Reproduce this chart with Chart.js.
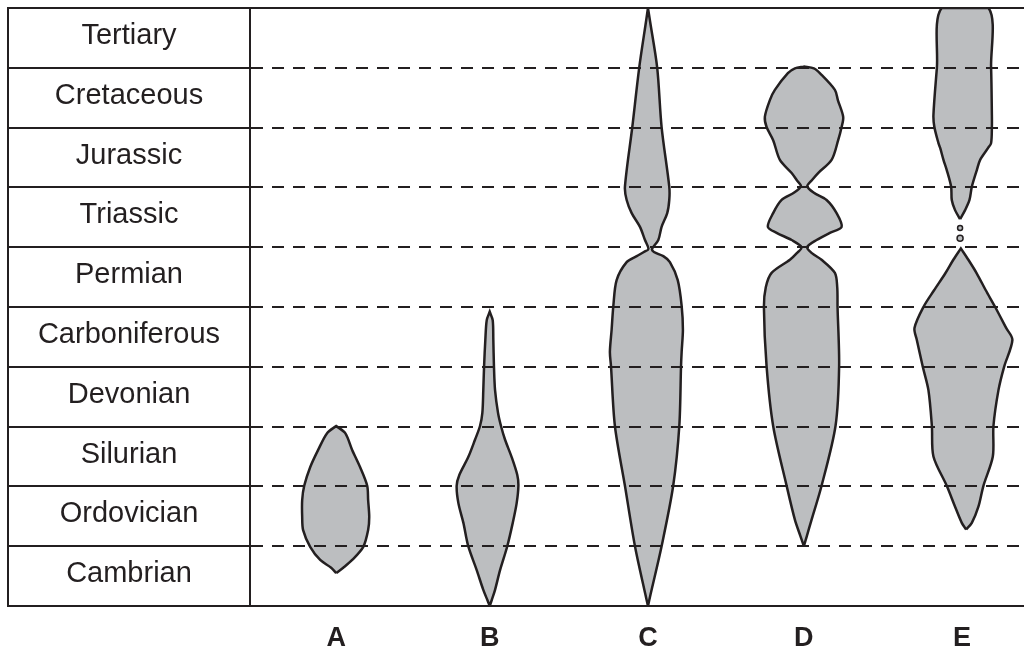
<!DOCTYPE html>
<html>
<head>
<meta charset="utf-8">
<script src="https://cdn.jsdelivr.net/npm/chart.js@4.4.1/dist/chart.umd.min.js"></script>
<style>
  html, body { margin: 0; padding: 0; background: #fff; }
  #wrap { width: 1024px; height: 652px; }
</style>
</head>
<body>
<div id="wrap"><canvas id="spindles"></canvas></div>
<script>
// periods bottom -> top, one unit of the y scale each
const periods = ['Cambrian', 'Ordovician', 'Silurian', 'Devonian', 'Carboniferous',
  'Permian', 'Triassic', 'Jurassic', 'Cretaceous', 'Tertiary'];
const groups = ['A', 'B', 'C', 'D', 'E'];
const groupX = [10.1, 19.9, 30.0, 39.95, 50.05];

// spindle outlines: levels (bottom up) and left / right edge offsets from the column
const levelsA = [0.55, 0.64, 0.77, 0.99, 1.27, 1.49, 1.77, 2.01, 2.32, 2.61, 2.89, 3.01];
const leftA = [0, -0.32, -1.02, -1.66, -2.11, -2.17, -2.17, -2.04, -1.66, -1.15, -0.58, 0];
const rightA = [0, 0.45, 1.02, 1.73, 2.04, 2.11, 2.04, 1.98, 1.53, 1.02, 0.58, 0];

const levelsB = [0, 0.1, 0.27, 0.6, 1.0, 1.39, 1.72, 2.01, 2.19, 2.49, 2.78, 3.01, 3.23, 3.61, 4.01, 4.45, 4.78, 4.92];
const leftB = [0, -0.15, -0.41, -0.83, -1.37, -1.68, -2.0, -2.11, -1.94, -1.37, -0.94, -0.62, -0.47, -0.41, -0.36, -0.28, -0.19, 0];
const rightB = [0, 0.13, 0.34, 0.66, 1.12, 1.47, 1.72, 1.83, 1.76, 1.40, 0.98, 0.72, 0.53, 0.34, 0.27, 0.23, 0.19, 0];

const levelsC = [0, 0.2, 1.0, 2.01, 3.01, 4.01, 4.25, 4.62, 5.02, 5.45, 5.75, 5.85, 5.92, 5.97, 6.12, 6.34, 6.57, 6.79, 7.01, 8.01, 9.0, 9.8, 10];
const leftC = [0, -0.17, -0.83, -1.47, -2.11, -2.36, -2.43, -2.32, -2.21, -2.0, -1.36, -0.72, -0.26, 0.03, -0.19, -0.51, -1.04, -1.36, -1.47, -1.0, -0.56, -0.11, 0];
const rightC = [0, 0.17, 0.87, 1.61, 2.0, 2.11, 2.15, 2.23, 2.15, 1.9, 1.40, 0.98, 0.38, 0.26, 0.66, 0.87, 1.23, 1.36, 1.36, 0.87, 0.59, 0.12, 0];

const levelsD = [1.0, 1.17, 1.44, 2.01, 3.01, 4.01, 5.0, 5.33, 5.57, 5.79, 5.9, 6.0, 6.12, 6.24, 6.34, 6.57, 6.79, 6.91, 7.02, 7.12, 7.24, 7.46, 7.79, 8.01, 8.18, 8.46, 8.63, 8.91, 8.99, 9.02];
const leftD = [0, -0.22, -0.57, -1.10, -1.96, -2.38, -2.55, -2.43, -2.06, -0.89, -0.45, -0.15, -0.78, -1.74, -2.30, -1.96, -1.42, -0.64, -0.19, -0.45, -0.78, -1.53, -1.96, -2.38, -2.49, -2.17, -1.85, -1.02, -0.57, 0];
const rightD = [0, 0.19, 0.49, 1.13, 2.02, 2.25, 2.15, 2.13, 1.98, 1.13, 0.51, 0.21, 0.81, 1.66, 2.41, 2.09, 1.45, 0.64, 0.22, 0.51, 0.91, 1.77, 2.19, 2.41, 2.51, 2.17, 1.98, 1.02, 0.64, 0];

// E: lower body (Ordovician - Permian) and upper body (Triassic - Tertiary)
const levelsE = [1.28, 1.39, 1.66, 2.01, 2.5, 3.01, 3.61, 4.0, 4.45, 4.65, 5.0, 5.28, 5.56, 5.79, 5.98];
const leftE = [0.26, -0.02, -0.45, -0.98, -1.83, -1.93, -2.15, -2.51, -2.89, -3.04, -2.47, -1.79, -1.08, -0.56, -0.08];
const rightE = [0.26, 0.62, 1.04, 1.36, 1.96, 2.0, 2.32, 2.68, 3.21, 2.81, 2.11, 1.51, 0.94, 0.40, -0.08];

const levelsE2 = [6.47, 6.62, 6.79, 7.01, 7.29, 7.46, 7.66, 7.74, 8.01, 8.21, 9.0, 10];
const leftE2 = [-0.13, -0.45, -0.66, -0.70, -0.98, -1.19, -1.40, -1.51, -1.77, -1.83, -1.61, -1.30];
const rightE2 = [-0.13, 0.19, 0.47, 0.62, 0.94, 1.15, 1.66, 1.85, 1.90, 1.90, 1.85, 1.68];

// isolated Triassic finds of E
const rareE = [6.15, 6.32];
const rareSize = [3, 2.5];

const INK = '#231f20';
const FILL = '#bcbec0';
const FAMILY = '"Liberation Sans", Arial, Helvetica, sans-serif';
const LABEL_FONT = { family: FAMILY, size: 29 };
const TABLE_W = 242;

// right edge going up, left edge coming down -> closed shape
function outline(cx, levels, left, right) {
  const pts = levels.map((y, i) => ({ x: cx + right[i], y }));
  for (let i = levels.length - 1; i >= 0; i--) pts.push({ x: cx + left[i], y: levels[i] });
  return pts;
}

const shapes = [
  outline(groupX[0], levelsA, leftA, rightA),
  outline(groupX[1], levelsB, leftB, rightB),
  outline(groupX[2], levelsC, leftC, rightC),
  outline(groupX[3], levelsD, leftD, rightD),
  outline(groupX[4], levelsE, leftE, rightE),
  outline(groupX[4], levelsE2, leftE2, rightE2),
];

// centre the period names in the table column
const measure = document.createElement('canvas').getContext('2d');
measure.font = LABEL_FONT.size + 'px ' + FAMILY;
const widest = Math.max(...periods.map(p => measure.measureText(p).width));

const isBoundary = c => c.tick && Number.isInteger(c.tick.value);

new Chart(document.getElementById('spindles'), {
  type: 'scatter',
  data: {
    datasets: [
      ...shapes.map(pts => ({
        data: pts,
        showLine: true,
        fill: 'shape',
        backgroundColor: FILL,
        borderColor: INK,
        borderWidth: 2.5,
        pointRadius: 0,
        tension: 0.3,
        xAxisID: 'x',
        yAxisID: 'y',
      })),
      {
        data: rareE.map(y => ({ x: groupX[4] - 0.13, y })),
        showLine: false,
        pointRadius: rareSize,
        pointBackgroundColor: FILL,
        pointBorderColor: INK,
        pointBorderWidth: 1.5,
        xAxisID: 'x',
        yAxisID: 'y',
      },
    ],
  },
  options: {
    responsive: true,
    maintainAspectRatio: false,
    animation: false,
    events: [],
    layout: { autoPadding: false, padding: { left: 8, top: 8, right: 0, bottom: 0 } },
    plugins: { legend: { display: false }, tooltip: { enabled: false } },
    scales: {
      x: {
        type: 'linear',
        position: 'bottom',
        min: 4.6,
        max: 54,
        afterBuildTicks: (s) => { s.ticks = groupX.map(v => ({ value: v })); },
        afterFit: (s) => { s.height = 46; s.paddingLeft = 0; s.paddingRight = 0; },
        grid: { display: false, drawTicks: false },
        border: { display: false },
        ticks: {
          autoSkip: false,
          maxRotation: 0,
          padding: 16,
          color: INK,
          font: { family: FAMILY, size: 27, weight: 'bold' },
          callback: (v, i) => groups[i],
        },
      },
      y: {
        type: 'linear',
        position: 'left',
        weight: 0,
        min: 0,
        max: periods.length,
        afterBuildTicks: (s) => {
          const t = [];
          periods.forEach((p, i) => t.push({ value: i }, { value: i + 0.5 }));
          t.push({ value: periods.length });
          s.ticks = t;
        },
        afterFit: (s) => { s.width = TABLE_W; s.paddingTop = 0; s.paddingBottom = 0; },
        grid: {
          z: 1,
          lineWidth: 2,
          color: c => isBoundary(c) ? INK : 'transparent',
          drawTicks: true,
          tickLength: TABLE_W,
          tickWidth: 2,
          tickColor: c => isBoundary(c) ? INK : 'transparent',
        },
        border: {
          display: true,
          z: 2,
          color: INK,
          width: 2,
          dash: c => (c.tick && c.tick.value > 0 && c.tick.value < periods.length) ? [12, 9] : [],
        },
        ticks: {
          autoSkip: false,
          color: INK,
          font: LABEL_FONT,
          crossAlign: 'center',
          padding: -(TABLE_W / 2 + widest / 2),
          labelOffset: -2,
          callback: v => Number.isInteger(v) ? '' : periods[Math.floor(v)],
        },
      },
      yFrame: {
        type: 'linear',
        position: 'left',
        weight: 1,
        min: 0,
        max: periods.length,
        afterFit: (s) => { s.width = 0; s.paddingTop = 0; s.paddingBottom = 0; },
        ticks: { display: false },
        grid: { display: false, drawTicks: false },
        border: { display: true, color: INK, width: 2 },
      },
    },
  },
});
</script>
</body>
</html>
